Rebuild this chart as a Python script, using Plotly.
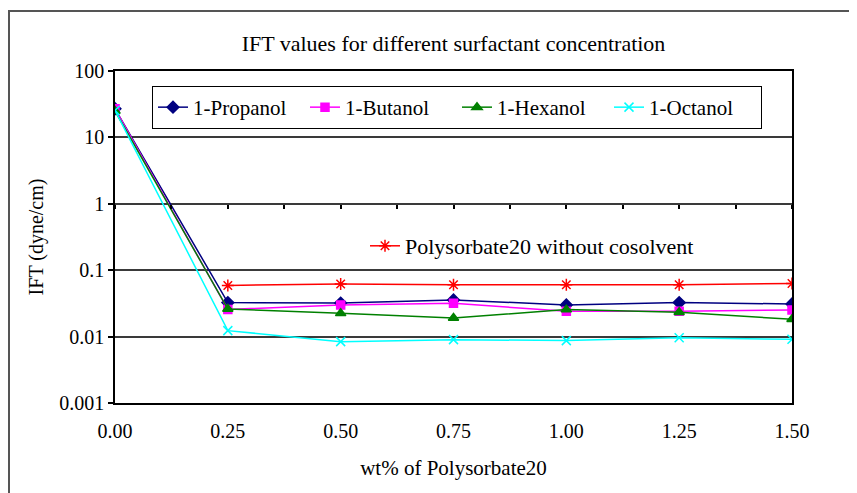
import plotly.graph_objects as go

wt = [0.00, 0.25, 0.50, 0.75, 1.00, 1.25, 1.50]
propanol = [27, 0.0325, 0.032, 0.0357, 0.030, 0.0325, 0.031]
butanol = [27, 0.0256, 0.030, 0.0317, 0.024, 0.024, 0.0252]
hexanol = [25, 0.026, 0.0224, 0.0191, 0.0255, 0.0232, 0.0182]
octanol = [25.5, 0.0123, 0.0084, 0.0090, 0.0087, 0.0096, 0.0091]
wt_ps = [0.25, 0.50, 0.75, 1.00, 1.25, 1.50]
polysorbate = [0.059, 0.062, 0.0605, 0.0605, 0.0605, 0.063]

y_ticks = [0.001, 0.01, 0.1, 1, 10, 100]
y_ticktext = ["0.001", "0.01", "0.1", "1", "10", "100"]
x_ticks = [0.00, 0.25, 0.50, 0.75, 1.00, 1.25, 1.50]
x_ticktext = ["0.00", "0.25", "0.50", "0.75", "1.00", "1.25", "1.50"]

FONT = "Liberation Serif"

# plot area geometry (figure px)
L, T, W, H = 107, 63, 677, 332
FW, FH = 857, 493

fig = go.Figure()
series = [
    ("1-Propanol", propanol, "#000080", "diamond", 9),
    ("1-Butanol", butanol, "#FF00FF", "square", 8),
    ("1-Hexanol", hexanol, "#008000", "triangle-up", 9),
    ("1-Octanol", octanol, "#00FFFF", "x-thin-open", 9),
]
for name, vals, col, sym, sz in series:
    fig.add_trace(go.Scatter(
        x=wt, y=vals, name=name, mode="lines+markers",
        line=dict(color=col, width=1.5),
        marker=dict(symbol=sym, size=sz, color=col, line=dict(color=col, width=1.5)),
        legend="legend",
    ))
fig.add_trace(go.Scatter(
    x=wt_ps, y=polysorbate, name="Polysorbate20 without cosolvent",
    mode="lines+markers", xaxis="x2",
    line=dict(color="#FF0000", width=1.5),
    marker=dict(symbol="asterisk-open", size=10, color="#FF0000",
                line=dict(color="#FF0000", width=1.5)),
    legend="legend2",
))

fig.update_layout(
    width=FW, height=FH,
    margin=dict(l=L, r=FW - L - W, t=T, b=FH - T - H, pad=0),
    paper_bgcolor="white", plot_bgcolor="white",
    font=dict(family=FONT, size=20, color="black"),
    title=dict(text="IFT values for different surfactant concentration",
               x=0.5, xanchor="center", xref="paper", y=0.928, yanchor="middle",
               font=dict(family=FONT, size=22, color="black")),
    showlegend=True,
    legend=dict(orientation="h", x=(152 - 8 - L) / W, y=(T + H - (106.5 - 7)) / H,
                xanchor="left", yanchor="middle",
                bordercolor="black", borderwidth=1, bgcolor="white",
                font=dict(family=FONT, size=21),
                entrywidthmode="pixels", entrywidth=107),
    legend2=dict(x=(365 - 8 - L) / W, y=(T + H - (245 - 7)) / H,
                 xanchor="left", yanchor="middle",
                 borderwidth=0, bgcolor="rgba(0,0,0,0)",
                 font=dict(family=FONT, size=22)),
    xaxis=dict(range=[0, 1.5], tickvals=x_ticks, ticktext=x_ticktext,
               showgrid=False, zeroline=False, showline=True, linecolor="black",
               linewidth=1.5, mirror=True, ticks="", ticklabelstandoff=9,
               tickfont=dict(family=FONT, size=20),
               title=dict(text="wt% of Polysorbate20", standoff=20,
                          font=dict(family=FONT, size=21))),
    xaxis2=dict(overlaying="x", matches="x", anchor="free", position=0.6,
                side="bottom", showline=False, showgrid=False, zeroline=False,
                showticklabels=False, ticks="outside", ticklen=4, tickwidth=1.5,
                tickcolor="black", tick0=0, dtick=0.125, range=[0, 1.5]),
    yaxis=dict(type="log", range=[-3, 2], tickvals=y_ticks, ticktext=y_ticktext,
               showgrid=True, gridcolor="#3a3a3a", gridwidth=1.5,
               zeroline=False, showline=True, linecolor="black", linewidth=1.5,
               mirror=True, ticks="outside", ticklen=5, tickwidth=1.5,
               tickcolor="black", tickfont=dict(family=FONT, size=20),
               title=dict(text="IFT (dyne/cm)", standoff=10,
                          font=dict(family=FONT, size=20))),
    shapes=[dict(type="rect", xref="paper", yref="paper",
                 x0=(1 - L) / W, x1=1.3, y0=-0.4, y1=(T + H - 3) / H,
                 line=dict(color="#555555", width=2), fillcolor="rgba(0,0,0,0)",
                 layer="below")],
)

fig.write_html("out.html")
